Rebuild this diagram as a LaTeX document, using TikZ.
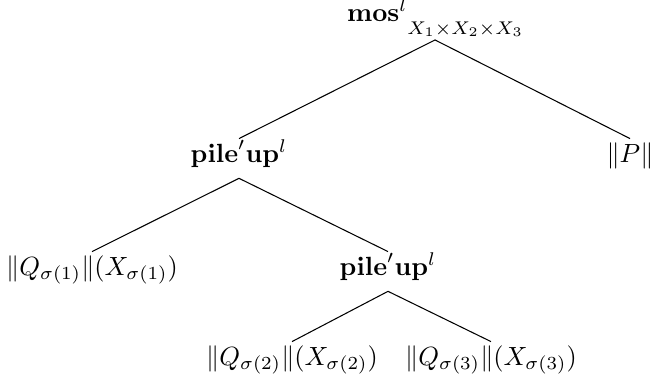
\documentclass[tikz,border=0pt]{standalone}
\usepackage{amsmath}
\tikzset{
  lbl/.style={inner sep=0pt,anchor=base,text height=8.7pt,text depth=6pt},
  rootlbl/.style={lbl,text depth=7pt}
}
\begin{document}
\begin{tikzpicture}[x=0.38pt,y=-0.38pt]
\useasboundingbox (0,0) rectangle (655,384);
\node[rootlbl] (mos) at (435,21) {$\mathbf{mos}^{l}\lower5pt\hbox{$\scriptstyle X_1\times X_2\times X_3$}$};
\node[lbl] (pile1) at (239,162) {$\mathbf{pile}'\mathbf{up}^{l}$};
\node[lbl] (normP) at (630,162) {$\|P\|$};
\node[lbl] (leaf1) at (92,275) {$\|Q_{\sigma(1)}\|(X_{\sigma(1)})$};
\node[lbl] (pile2) at (388,275) {$\mathbf{pile}'\mathbf{up}^{l}$};
\node[lbl] (leaf2) at (292,365) {$\|Q_{\sigma(2)}\|(X_{\sigma(2)})$};
\node[lbl] (leaf3) at (491,365) {$\|Q_{\sigma(3)}\|(X_{\sigma(3)})$};
\draw (mos.south) -- (pile1.north);
\draw (mos.south) -- (normP.north);
\draw (pile1.south) -- (leaf1.north);
\draw (pile1.south) -- (pile2.north);
\draw (pile2.south) -- (leaf2.north);
\draw (pile2.south) -- (leaf3.north);
\end{tikzpicture}
\end{document}
